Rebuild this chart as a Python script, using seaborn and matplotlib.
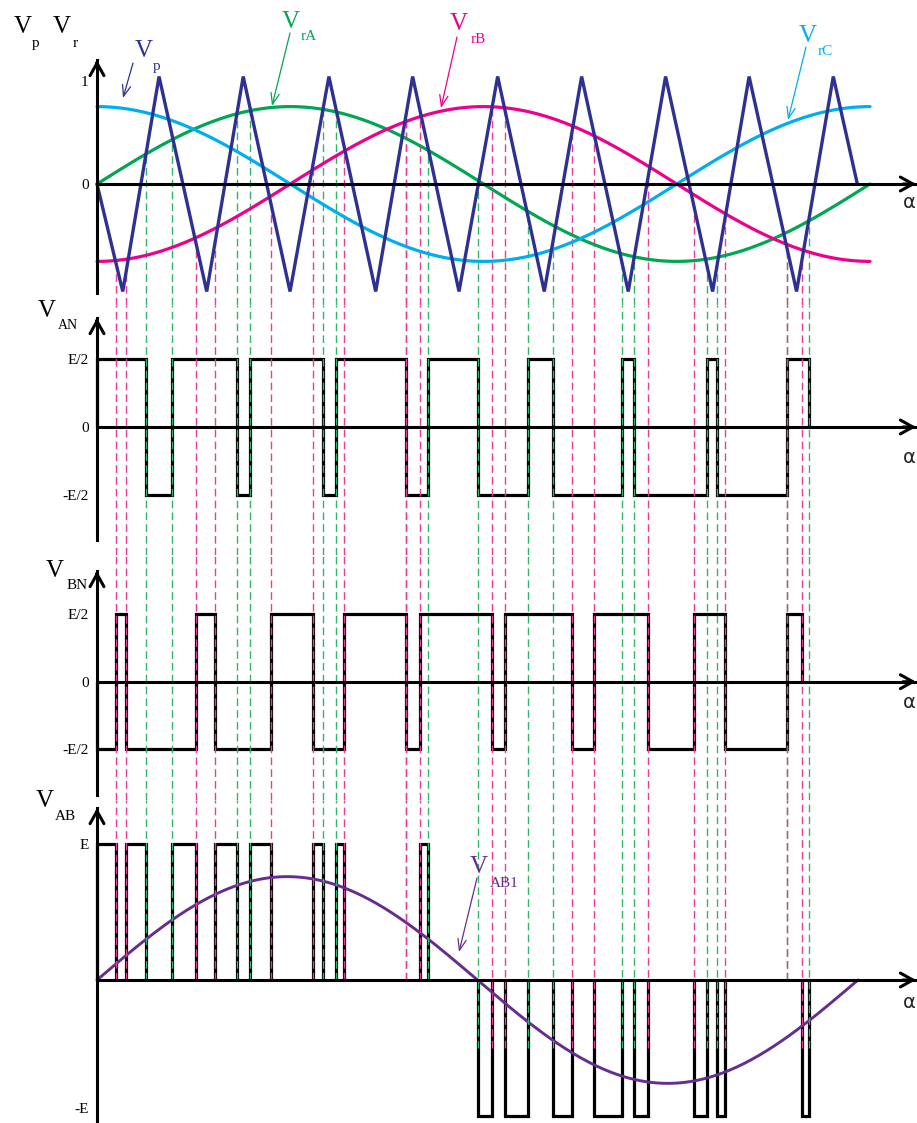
import numpy as np
import pandas as pd
import matplotlib
matplotlib.use("Agg")
import matplotlib.pyplot as plt
import seaborn as sns

# ── data (angles in degrees, 0..360 = one fundamental period) ─────────────

# triangular carrier V_p: vertex angles and levels
CARRIER_X = [0.0, 12.0, 28.9, 51.1, 68.1, 89.9, 108.0, 129.8, 147.0, 168.6,
             186.6, 208.3, 225.7, 247.4, 264.8, 286.7, 303.7, 325.8, 342.9, 354.1]
CARRIER_Y = [0, -1, 1, -1, 1, -1, 1, -1, 1, -1,
             1, -1, 1, -1, 1, -1, 1, -1, 1, 0]

# sinusoidal references
REF_NAMES = ["rA", "rB", "rC"]
REF_PHASE = [0, -90, 90]
REF_AMP = 0.72

# pole voltages (units of E/2): switching angles, first level, angle where trace stops
AN_EDGES = [22.7, 34.7, 65.2, 71.3, 105.4, 111.3, 143.8, 154.1, 177.6, 200.7,
            212.5, 244.4, 250.2, 283.9, 288.7, 321.2]
AN_FIRST = 1
AN_END = 331.4

BN_EDGES = [9.0, 13.5, 46.1, 55.0, 80.9, 100.4, 114.9, 143.8, 150.5, 183.8,
            190.0, 221.2, 231.6, 256.7, 278.1, 292.4, 321.2]
BN_FIRST = -1
BN_END = 328.5

# line voltage V_AB (units of E): pulses (from, to)
AB_POS = [(0.0, 9.0), (13.5, 22.7), (34.7, 46.1), (55.0, 65.2), (71.3, 80.9),
          (100.4, 105.4), (111.3, 114.9), (150.5, 154.1)]
AB_NEG = [(177.6, 183.8), (190.0, 200.7), (212.5, 221.2), (231.6, 244.4),
          (250.2, 256.7), (278.1, 283.9), (288.7, 292.4), (328.5, 331.4)]

# fundamental of V_AB
AB1_AMP = 0.76
AB1_PERIOD = 354.4

# tick labels
TOP_TICKS, TOP_LABELS = [0, 1], ["0", "1"]
POLE_TICKS, POLE_LABELS = [-1, 0, 1], ["-E/2", "0", "E/2"]
AB_TICKS, AB_LABELS = [-1, 1], ["-E", "E"]

# ── style ──────────────────────────────────────────────────────────────────
C_CARRIER = "#2e3192"
C_REF = {"rA": "#00a651", "rB": "#ec008c", "rC": "#00aeef"}
C_AB1 = "#662d91"
C_DASH_A = "#34b36a"
C_DASH_B = "#ec3a95"
DASH = (0, (5.5, 3))

W, H = 917, 1123
X0_PX = 97
PX_PER_DEG = 773 / 360
XLIM = (-X0_PX / PX_PER_DEG, (W - X0_PX) / PX_PER_DEG)
X_TIP = (916 - X0_PX) / PX_PER_DEG

sns.set_theme(style="white")
plt.rcParams["font.family"] = ["Liberation Serif", "DejaVu Serif"]

fig = plt.figure(figsize=(W / 100, H / 100), dpi=100)
fig.patch.set_facecolor("white")


def make_panel(band_top, band_bot, zero, scale, axis_bot, axis_tip, alpha_y):
    ax = fig.add_axes([0, 1 - band_bot / H, 1, (band_bot - band_top) / H])
    ax.set_xlim(*XLIM)
    ax.set_ylim(-(band_bot - zero) / scale, (zero - band_top) / scale)
    ax.patch.set_alpha(0)
    ax.grid(False)
    for s in ("top", "right"):
        ax.spines[s].set_visible(False)
    y_lo = -(axis_bot - zero) / scale
    y_hi = (zero - axis_tip) / scale
    ax.spines["left"].set_position(("data", 0))
    ax.spines["bottom"].set_position(("data", 0))
    ax.spines["left"].set_bounds(y_lo, y_hi)
    ax.spines["bottom"].set_bounds(0, X_TIP)
    for s in ("left", "bottom"):
        ax.spines[s].set_linewidth(2.2)
        ax.spines[s].set_color("black")
        ax.spines[s].set_zorder(4)
    ax.set_xticks([])
    ax.tick_params(axis="y", length=0, pad=6, labelsize=11, colors="black")
    head = dict(arrowstyle="->,head_length=0.45,head_width=0.25", lw=2.2,
                color="black", shrinkA=0, shrinkB=0, mutation_scale=20)
    ax.annotate("", xy=(X_TIP, 0), xytext=(X_TIP - 6, 0), arrowprops=head,
                annotation_clip=False, zorder=5)
    ax.annotate("", xy=(0, y_hi), xytext=(0, y_hi - 0.05), arrowprops=head,
                annotation_clip=False, zorder=5)
    fig.text(903 / W, 1 - alpha_y / H, "α", family="DejaVu Sans", fontsize=14,
             ha="left", va="center")
    return ax


def pole_trace(edges, first, end):
    levels = [first * (-1) ** i for i in range(len(edges) + 1)]
    x = [0, 0] + list(edges) + [end]
    y = [0, levels[0]] + levels[1:] + [0]
    return x, y


def pulses(intervals, level):
    xs, ys = [], []
    for a, b in intervals:
        xs += [a, a, b, b, np.nan]
        ys += [0, level, level, 0, np.nan]
    return xs, ys


green_x = AN_EDGES + [AN_END]
mag_x = BN_EDGES + [BN_END]

# ── panel 1: carrier and references ────────────────────────────────────────
ax1 = make_panel(0, 305, 184, 107.5, 293, 60, 203)
theta = np.linspace(0, 360, 361)
ref_df = pd.concat([
    pd.DataFrame({"theta": theta,
                  "v": REF_AMP * np.sin(np.radians(theta + ph)),
                  "ref": name})
    for name, ph in zip(REF_NAMES, REF_PHASE)
])
y_bot = ax1.get_ylim()[0]
ax1.vlines(green_x, y_bot, np.interp(green_x, CARRIER_X, CARRIER_Y),
           colors=C_DASH_A, linestyles=DASH, lw=1, zorder=1)
ax1.vlines(mag_x, y_bot, np.interp(mag_x, CARRIER_X, CARRIER_Y),
           colors=C_DASH_B, linestyles=DASH, lw=1, zorder=1)
sns.lineplot(data=ref_df, x="theta", y="v", hue="ref", palette=C_REF,
             estimator=None, lw=2.3, legend=False, ax=ax1, zorder=2)
sns.lineplot(x=CARRIER_X, y=CARRIER_Y, sort=False, estimator=None,
             color=C_CARRIER, lw=2.4, ax=ax1, zorder=3,
             solid_joinstyle="miter")
ax1.set_yticks(TOP_TICKS, TOP_LABELS)
ax1.get_yticklabels()[1].set_va("top")

# ── panels 2, 3: pole voltages ─────────────────────────────────────────────
ax2 = make_panel(305, 555, 427, 67.7, 540, 318, 457)
ax3 = make_panel(555, 800, 681.7, 67.7, 795, 571, 703)
for ax, edges, first, end in ((ax2, AN_EDGES, AN_FIRST, AN_END),
                              (ax3, BN_EDGES, BN_FIRST, BN_END)):
    x, y = pole_trace(edges, first, end)
    ax.plot(x, y, drawstyle="steps-post", color="black", lw=2.3,
            solid_joinstyle="miter", zorder=2)
    lo, hi = ax.get_ylim()
    ax.vlines(green_x, lo, hi, colors=C_DASH_A, linestyles=DASH, lw=1, zorder=3)
    ax.vlines(mag_x, lo, hi, colors=C_DASH_B, linestyles=DASH, lw=1, zorder=3)
    ax.set_yticks(POLE_TICKS, POLE_LABELS)

# ── panel 4: line voltage ──────────────────────────────────────────────────
ax4 = make_panel(800, 1123, 980, 136, 1130, 808, 1003)
for intervals, level in ((AB_POS, 1), (AB_NEG, -1)):
    x, y = pulses(intervals, level)
    ax4.plot(x, y, color="black", lw=2.3, solid_joinstyle="miter", zorder=2)
neg_edges = {v for pair in AB_NEG for v in pair}
top4 = ax4.get_ylim()[1]
for xs, col in ((green_x, C_DASH_A), (mag_x, C_DASH_B)):
    ends = [-0.5 if v in neg_edges else 0 for v in xs]
    ax4.vlines(xs, ends, top4, colors=col, linestyles=DASH, lw=1, zorder=3)
th1 = np.linspace(0, AB1_PERIOD, 300)
sns.lineplot(x=th1, y=AB1_AMP * np.sin(2 * np.pi * th1 / AB1_PERIOD),
             color=C_AB1, lw=2.1, ax=ax4, zorder=2.5)
ax4.set_yticks(AB_TICKS, AB_LABELS)
ax4.get_yticklabels()[0].set_va("bottom")

for ax in (ax1, ax2, ax3, ax4):
    ax.set_xlabel("")
    ax.set_ylabel("")

# ── labels ─────────────────────────────────────────────────────────────────


def v_label(sub, color, vx, vy, sx, sy, sub_size=11, arrow=None):
    fig.text(vx / W, 1 - vy / H, "V", color=color, fontsize=18,
             ha="center", va="baseline")
    fig.text(sx / W, 1 - sy / H, sub, color=color, fontsize=sub_size,
             ha="left", va="baseline")
    if arrow is not None:
        (x1, y1), (x2, y2) = arrow
        ax1.annotate("", xy=(x2, H - y2), xytext=(x1, H - y1),
                     xycoords="figure pixels", textcoords="figure pixels",
                     arrowprops=dict(arrowstyle="->,head_length=0.4,head_width=0.15",
                                     color=color, lw=0.9, shrinkA=0, shrinkB=0,
                                     mutation_scale=20),
                     annotation_clip=False)


v_label("p", "black", 22.5, 33, 32, 47)
v_label("r", "black", 61.5, 33, 73, 47)
v_label("p", C_CARRIER, 143.5, 57, 153, 70, arrow=((133, 63), (123, 98)))
v_label("rA", C_REF["rA"], 291, 28, 301, 40, arrow=((290, 33), (272, 106)))
v_label("rB", C_REF["rB"], 459, 30, 471, 43, arrow=((457, 37), (441, 108)))
v_label("rC", C_REF["rC"], 807.5, 42, 818, 55, arrow=((806, 47), (788, 120)))
v_label("AN", "black", 46.5, 317, 58, 329, sub_size=10)
v_label("BN", "black", 55, 577, 67, 589)
v_label("AB", "black", 44.5, 807, 55, 820)
v_label("AB1", C_AB1, 479, 873, 490, 887, arrow=((477, 878), (459, 952)))

fig.savefig("out.png", dpi=100)
